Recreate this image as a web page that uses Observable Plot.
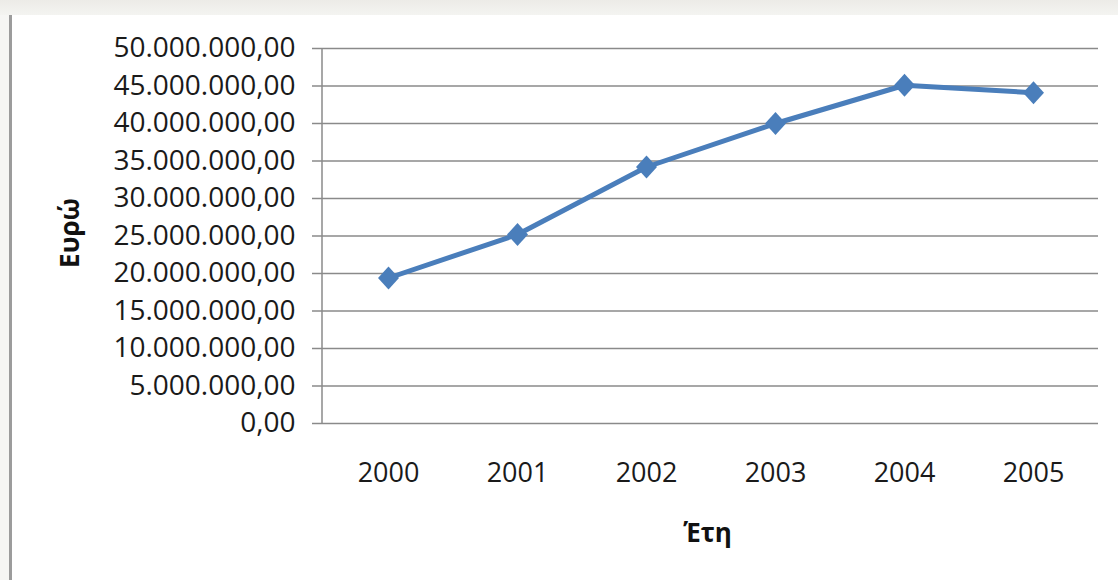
<!DOCTYPE html>
<html>
<head>
<meta charset="utf-8">
<script src="https://cdn.jsdelivr.net/npm/d3@7"></script>
<script src="https://cdn.jsdelivr.net/npm/@observablehq/plot@0.6"></script>
<style>
  html, body { margin: 0; padding: 0; background: #ffffff; }
  body { width: 1118px; height: 580px; position: relative; overflow: hidden; }
  #topstrip { position: absolute; left: 0; top: 0; width: 1118px; height: 15px; background: linear-gradient(#ecebe7, #f4f4f1); }
  #leftstrip { position: absolute; left: 0; top: 15px; width: 9px; height: 565px; background: #f6f6f4; }
  #leftline { position: absolute; left: 9px; top: 15px; width: 3px; height: 565px; background: #9c9c9c; }
  #chart { position: absolute; left: 0; top: 0; }
</style>
</head>
<body>
<div id="topstrip"></div>
<div id="leftstrip"></div>
<div id="leftline"></div>
<div id="chart"></div>
<script>
const years = ["2000", "2001", "2002", "2003", "2004", "2005"];
const values = [19400000, 25200000, 34200000, 40000000, 45100000, 44100000];
const yTicks = [0, 5000000, 10000000, 15000000, 20000000, 25000000, 30000000, 35000000, 40000000, 45000000, 50000000];
const yTitle = "Ευρώ";
const xTitle = "Έτη";

const data = years.map((year, i) => ({year, value: values[i]}));

const greek = d3.formatLocale({decimal: ",", thousands: ".", grouping: [3], currency: ["", " €"]});
const fmt = greek.format(",.2f");

const blue = "#4a7ebb";
const gridColor = "#8a8a8a";

const diamond = {
  draw(ctx) {
    const w = 10.5, h = 11.5;
    ctx.moveTo(0, -h);
    ctx.lineTo(w, 0);
    ctx.lineTo(0, h);
    ctx.lineTo(-w, 0);
    ctx.closePath();
  }
};

// vertical value-axis line along the left edge of the plotting frame
const axisLine = (index, scales, values, dims) => {
  const g = d3.create("svg:line")
    .attr("x1", dims.marginLeft).attr("x2", dims.marginLeft)
    .attr("y1", dims.marginTop).attr("y2", dims.height - dims.marginBottom)
    .attr("stroke", gridColor).attr("stroke-width", 1.5);
  return g.node();
};

const chart = Plot.plot({
  width: 1118,
  height: 580,
  marginLeft: 322,
  marginRight: 20,
  marginTop: 48,
  marginBottom: 157,
  style: {fontFamily: "'Open Sans', sans-serif", fontSize: "27px", color: "#1a1a1a", background: "transparent"},
  x: {type: "point", domain: years, padding: 0.5, label: null},
  y: {domain: [0, 50000000], label: null},
  marks: [
    Plot.gridY(yTicks, {stroke: gridColor, strokeOpacity: 1, strokeWidth: 1.5}),
    Plot.axisY(yTicks, {tickSize: 10, tickPadding: 17, tickFormat: fmt, stroke: gridColor, strokeOpacity: 1, strokeWidth: 1.5, fill: "#1a1a1a", fontSize: 28, label: null}),
    axisLine,
    Plot.axisX({tickSize: 0, tickPadding: 39, fontSize: 27, fill: "#1a1a1a", label: null}),
    Plot.text([yTitle], {frameAnchor: "left", textAnchor: "middle", lineAnchor: "middle", dx: -252, dy: -3, rotate: -90, fontWeight: "bold", fontSize: 26, fill: "#111"}),
    Plot.text([xTitle], {frameAnchor: "bottom", textAnchor: "middle", lineAnchor: "middle", dy: 110, dx: -3, fontWeight: "bold", fontSize: 26, fill: "#111"}),
    Plot.line(data, {x: "year", y: "value", stroke: blue, strokeWidth: 5, strokeLinejoin: "round"}),
    Plot.dot(data, {x: "year", y: "value", symbol: diamond, fill: blue, stroke: "none", r: 8})
  ]
});
document.getElementById("chart").appendChild(chart);
</script>
</body>
</html>
